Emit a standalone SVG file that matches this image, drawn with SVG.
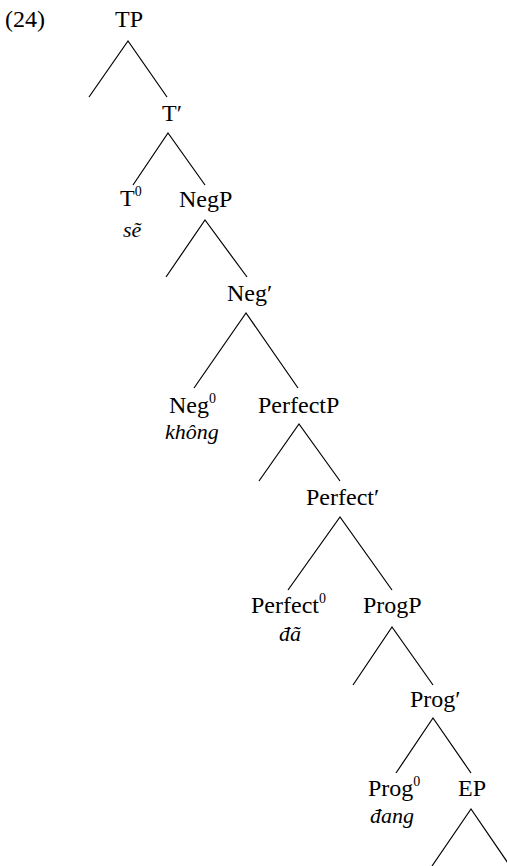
<svg xmlns="http://www.w3.org/2000/svg" width="507" height="866" viewBox="0 0 507 866">
<style>
text{font-family:'Liberation Serif','Times New Roman',serif;font-size:24px;fill:#000}
.it{font-style:italic;font-size:22px}
.sup{font-size:14px}
#edges path{fill:none;stroke:#000;stroke-width:1.2}
</style>
<rect width="507" height="866" fill="#fff"/>
<g id="edges">
<path d="M89,97 L128,41 L167,97"/>
<path d="M133,185 L168,133 L205,185"/>
<path d="M166,277 L205,220 L247,277"/>
<path d="M194,388 L246,313 L298,388"/>
<path d="M259,481 L299,424 L340,481"/>
<path d="M288,590 L340,517 L392,590"/>
<path d="M353,685 L392,627 L433,685"/>
<path d="M396,773 L433,718 L471,773"/>
<path d="M432,866 L471,809 L510,866"/>
</g>
<g id="ex"><text x="5" y="27">(24)</text></g>
<g id="TP"><text x="115" y="27">TP</text></g>
<g id="Tbar"><text x="162" y="121">T′</text></g>
<g id="T0"><text x="120" y="206">T<tspan class="sup" dy="-10">0</tspan></text><text class="it" x="123" y="237">sẽ</text></g>
<g id="NegP"><text x="179" y="207">NegP</text></g>
<g id="Negbar"><text x="227" y="301">Neg′</text></g>
<g id="Neg0"><text x="169" y="413">Neg<tspan class="sup" dy="-10">0</tspan></text><text class="it" x="165" y="439">không</text></g>
<g id="PerfectP"><text x="258" y="413">PerfectP</text></g>
<g id="Perfectbar"><text x="306" y="505">Perfect′</text></g>
<g id="Perfect0"><text x="251" y="613">Perfect<tspan class="sup" dy="-10">0</tspan></text><text class="it" x="279" y="641">đã</text></g>
<g id="ProgP"><text x="363" y="613">ProgP</text></g>
<g id="Progbar"><text x="410" y="707">Prog′</text></g>
<g id="Prog0"><text x="368" y="796">Prog<tspan class="sup" dy="-10">0</tspan></text><text class="it" x="370" y="823">đang</text></g>
<g id="EP"><text x="458" y="796">EP</text></g>
</svg>
